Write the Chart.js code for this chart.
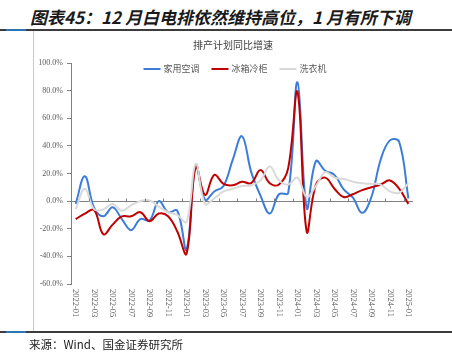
<!DOCTYPE html>
<html>
<head>
<meta charset="utf-8">
<script src="https://cdn.jsdelivr.net/npm/chart.js"></script>
<style>
    html, body { margin: 0; padding: 0; background: #fff; }
    #wrap { position: relative; width: 452px; height: 361px; overflow: hidden; }
    #chart { position: absolute; left: 0; top: 0; }
    .title { position: absolute; left: 30px; top: 4px; font: italic bold 17px "Noto Sans CJK SC"; color: #1a1a1a; white-space: nowrap; }
    .rule { position: absolute; left: 0; width: 452px; height: 2px; background: #3c3c3c; }
    .accent { position: absolute; left: 6px; width: 20px; height: 2px; background: #2e75b6; }
    .vline { position: absolute; left: 33px; top: 31px; width: 1px; height: 300px; background: #c8c8c8; }
    .source { position: absolute; left: 29px; top: 336px; font: 11.5px "Noto Sans CJK SC"; color: #222; white-space: nowrap; }
</style>
</head>
<body>
<div id="wrap">
    <div class="title">图表45：12 月白电排依然维持高位，1 月有所下调</div>
    <div class="rule" style="top:29px"></div>
    <div class="accent" style="top:29px"></div>
    <div class="vline"></div>
    <canvas id="chart" width="452" height="361"></canvas>
    <div class="rule" style="top:331px"></div>
    <div class="accent" style="top:331px"></div>
    <div class="source">来源：Wind、国金证券研究所</div>
</div>
<script>
const months = ['2022-01', '2022-02', '2022-03', '2022-04', '2022-05', '2022-06', '2022-07', '2022-08', '2022-09', '2022-10', '2022-11', '2022-12',
    '2023-01', '2023-02', '2023-03', '2023-04', '2023-05', '2023-06', '2023-07', '2023-08', '2023-09', '2023-10', '2023-11', '2023-12',
    '2024-01', '2024-02', '2024-03', '2024-04', '2024-05', '2024-06', '2024-07', '2024-08', '2024-09', '2024-10', '2024-11', '2024-12',
    '2025-01'];

// 家用空调
const airCon = [-2, 18, -5, -11, -4.5, -13, -21, -13, -14, 0, -8, -7,
    -35, 26, 1, 7, 11, 30, 47, 21, 4, -9, 5, 6,
    86, -5, 29, 22, 19, 8.5, 2.5, -8.5, 3, 30, 44, 43,
    2];
// 冰箱冷柜
const fridge = [-13, -9, -6.5, -24, -17, -11, -11, -8, -14.5, -9, -11, -22,
    -38, 25, 4.5, 19, 12.5, 11.5, 14, 13, 22.5, 13, 12, 24,
    79, -22, 12, 17, 9, 3, 5, 8, 10, 12, 15, 9,
    -2];
// 洗衣机
const washer = [-6, 9, -6, -6, -2, -7, -3, 0, 0.5, -4, -8, -10,
    -15, 27, -2, 2, 7, 9, 11, 11.5, 15, 25, 15, 12,
    17, 3, 11, 21, 17, 16, 14, 13, 12.5, 12, 7, 6,
    13];

const yTicks = [-60, -40, -20, 0, 20, 40, 60, 80, 100];
const chartTitle = '排产计划同比增速';

const axisColor = '#808080';
const textColor = '#595959';

// chart title, legend, x labels and the small ticks on the zero line
const decorPlugin = {
    id: 'decor',
    afterDraw(chart) {
        const ctx = chart.ctx;
        const area = chart.chartArea;
        const xs = chart.scales.x;
        const ys = chart.scales.y;
        const centerX = 235;
        ctx.save();

        ctx.fillStyle = '#404040';
        ctx.font = '10px "Noto Sans CJK SC"';
        ctx.textAlign = 'center';
        ctx.textBaseline = 'middle';
        ctx.fillText(chartTitle, centerX - 2, area.top - 18);

        ctx.font = '9px "Noto Sans CJK SC"';
        ctx.textAlign = 'left';
        const lineLen = 17, gap = 3, itemGap = 12;
        const items = chart.data.datasets.map(ds => ({label: ds.label, color: ds.borderColor, w: ctx.measureText(ds.label).width}));
        let total = items.reduce((s, it) => s + lineLen + gap + it.w, 0) + itemGap * (items.length - 1);
        let x = centerX - total / 2;
        const ly = area.top + 6;
        items.forEach(it => {
            ctx.strokeStyle = it.color;
            ctx.lineWidth = 2;
            ctx.beginPath();
            ctx.moveTo(x, ly);
            ctx.lineTo(x + lineLen, ly);
            ctx.stroke();
            ctx.fillStyle = textColor;
            ctx.fillText(it.label, x + lineLen + gap, ly);
            x += lineLen + gap + it.w + itemGap;
        });

        // tick marks on the zero line, every second month
        const y0 = Math.round(ys.getPixelForValue(0)) + 0.5;
        ctx.strokeStyle = axisColor;
        ctx.lineWidth = 1;
        for (let i = 2; i < months.length; i += 2) {
            const tx = Math.round((xs.getPixelForValue(i - 1) + xs.getPixelForValue(i)) / 2) + 0.5;
            ctx.beginPath();
            ctx.moveTo(tx, y0 - 3);
            ctx.lineTo(tx, y0);
            ctx.stroke();
        }

        // rotated month labels
        ctx.fillStyle = textColor;
        ctx.font = '8.5px "Liberation Serif"';
        ctx.textAlign = 'left';
        ctx.textBaseline = 'middle';
        for (let i = 0; i < months.length; i += 2) {
            const px = xs.getPixelForValue(i);
            ctx.save();
            ctx.translate(px, area.bottom + 5);
            ctx.rotate(Math.PI / 2);
            ctx.fillText(months[i], 0, 0);
            ctx.restore();
        }
        ctx.restore();
    }
};

const ctx = document.getElementById('chart').getContext('2d');

new Chart(ctx, {
    type: 'line',
    data: {
        labels: months,
        datasets: [{
            label: '家用空调',
            data: airCon,
            borderColor: '#3b7dd8',
            borderWidth: 2,
            pointRadius: 0,
            tension: 0.4,
            order: 3
        }, {
            label: '冰箱冷柜',
            data: fridge,
            borderColor: '#c00000',
            borderWidth: 2,
            pointRadius: 0,
            tension: 0.4,
            order: 2
        }, {
            label: '洗衣机',
            data: washer,
            borderColor: '#d9d9d9',
            borderWidth: 2,
            pointRadius: 0,
            tension: 0.4,
            order: 1
        }]
    },
    options: {
        responsive: false,
        animation: false,
        layout: {
            padding: {left: 33, right: 39, top: 63, bottom: 77}
        },
        plugins: {
            legend: {display: false},
            tooltip: {enabled: false}
        },
        scales: {
            x: {
                display: false,
                offset: true
            },
            y: {
                min: yTicks[0],
                max: yTicks[yTicks.length - 1],
                afterFit: function (scale) {
                    scale.width = 38;
                },
                afterBuildTicks: function (scale) {
                    scale.ticks = yTicks.map(v => ({value: v}));
                },
                border: {
                    display: true,
                    color: axisColor,
                    width: 1
                },
                grid: {
                    drawOnChartArea: true,
                    color: c => (c.tick && c.tick.value === 0) ? axisColor : 'transparent',
                    tickColor: axisColor,
                    tickLength: 4
                },
                ticks: {
                    padding: 4,
                    color: textColor,
                    font: {family: 'Liberation Serif', size: 8},
                    callback: function (value) {
                        return value.toFixed(1) + '%';
                    }
                }
            }
        }
    },
    plugins: [decorPlugin]
});
</script>
</body>
</html>
